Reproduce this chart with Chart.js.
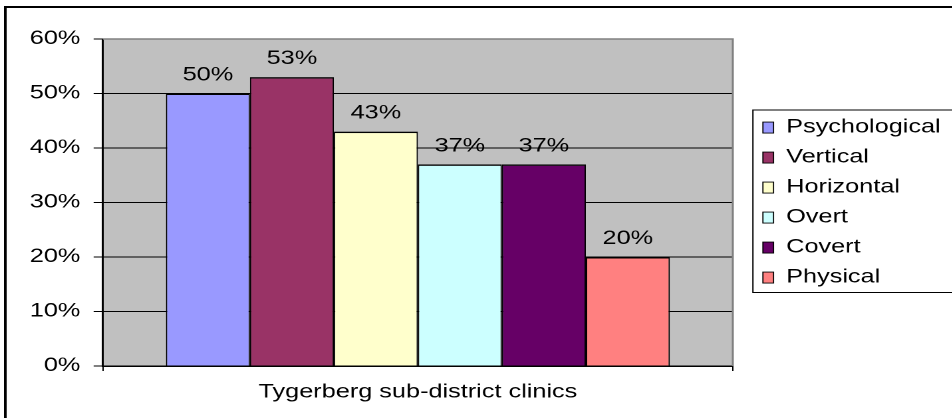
<!DOCTYPE html>
<html>
<head>
<meta charset="utf-8">
<script src="https://cdn.jsdelivr.net/npm/chart.js@4/dist/chart.umd.min.js"></script>
<style>
  html, body { margin: 0; padding: 0; background: #fff; overflow: hidden; }
  /* the original picture is stretched sideways, so the whole chart is too */
  #wrap { position: absolute; left: 0; top: 0; width: 725px; height: 425px;
          transform: scaleX(1.33); transform-origin: 0 0; }
</style>
</head>
<body>
<div id="wrap"><canvas id="chart"></canvas></div>
<script>
// data
const categories = ['Tygerberg sub-district clinics'];
const seriesNames = ['Psychological', 'Vertical', 'Horizontal', 'Overt', 'Covert', 'Physical'];
const seriesValues = [50, 53, 43, 37, 37, 20];
const seriesColors = ['#9999FF', '#993366', '#FFFFCC', '#CCFFFF', '#660066', '#FF8080'];
const yTicks = [0, 10, 20, 30, 40, 50, 60];

const FONT = { family: "'Liberation Sans', Arial, sans-serif", size: 19 };

// grey plot area
const plotBg = {
    id: 'plotBg',
    beforeDraw(chart) {
        const { ctx, chartArea: a } = chart;
        ctx.save();
        ctx.fillStyle = '#C0C0C0';
        ctx.fillRect(a.left, a.top, a.right - a.left, a.bottom - a.top);
        ctx.restore();
    }
};

// move legend items away from the plot, like the excel one
const legendShift = {
    id: 'legendShift',
    afterLayout(chart) {
        const lg = chart.legend;
        lg.left = chart.chartArea.right + 11.6;
        lg.right = chart.width;
    }
};

// value labels above bars
const valueLabels = {
    id: 'valueLabels',
    afterDatasetsDraw(chart) {
        const ctx = chart.ctx;
        ctx.save();
        ctx.font = FONT.size + 'px ' + FONT.family;
        ctx.fillStyle = '#000';
        ctx.textAlign = 'center';
        ctx.textBaseline = 'alphabetic';
        seriesValues.forEach((v, i) => {
            const bar = chart.getDatasetMeta(i).data[0];
            ctx.fillText(v + '%', bar.x, bar.y - 13);
        });
        ctx.restore();
    }
};

// borders: plot top/right, legend box, outer frame
const frames = {
    id: 'frames',
    afterDraw(chart) {
        const { ctx, chartArea: a } = chart;
        ctx.save();
        ctx.strokeStyle = '#808080';
        ctx.lineWidth = 1.5;
        ctx.beginPath();
        ctx.moveTo(a.left, a.top);
        ctx.lineTo(a.right, a.top);
        ctx.lineTo(a.right, a.bottom);
        ctx.stroke();

        const hb = chart.legend.legendHitBoxes;
        if (hb && hb.length) {
            const last = hb[hb.length - 1];
            const x0 = hb[0].left - 7.5;
            const y0 = hb[0].top - 8;
            const y1 = last.top + last.height + 5.5;
            ctx.strokeStyle = '#000';
            ctx.lineWidth = 1;
            ctx.strokeRect(x0, y0, chart.width + 10 - x0, y1 - y0);
        }

        ctx.strokeStyle = '#000';
        ctx.lineWidth = 2;
        ctx.strokeRect(4, 7, chart.width + 10, chart.height + 10);
        ctx.restore();
    }
};

new Chart(document.getElementById('chart'), {
    type: 'bar',
    data: {
        labels: categories,
        datasets: seriesNames.map((name, i) => ({
            label: name,
            data: [seriesValues[i]],
            backgroundColor: seriesColors[i],
            borderColor: '#000',
            borderWidth: { top: 1.5, left: 1, right: 1, bottom: 0 },
            borderSkipped: false,
            categoryPercentage: 0.8,
            barPercentage: 1.0
        }))
    },
    options: {
        responsive: true,
        maintainAspectRatio: false,
        devicePixelRatio: 2,
        animation: false,
        layout: { padding: { top: 39, left: 0, right: 24, bottom: 0 } },
        plugins: {
            legend: {
                position: 'right',
                fullSize: false,
                maxWidth: 150,
                labels: {
                    font: FONT,
                    color: '#000',
                    boxWidth: 8,
                    boxHeight: 11,
                    padding: 11
                }
            },
            tooltip: { enabled: false }
        },
        scales: {
            x: {
                grid: { display: true, drawOnChartArea: false, color: '#000', tickLength: 5, offset: true },
                border: { color: '#000', width: 1.5 },
                ticks: { font: FONT, color: '#000', padding: 10 },
                afterFit(s) { s.height = 59; }
            },
            y: {
                min: yTicks[0],
                max: yTicks[yTicks.length - 1],
                ticks: {
                    stepSize: yTicks[1] - yTicks[0],
                    font: FONT,
                    color: '#000',
                    padding: 10,
                    callback: v => v + '%'
                },
                grid: {
                    color: c => (c.tick && c.tick.value === yTicks[yTicks.length - 1]) ? 'rgba(0,0,0,0)' : '#000',
                    lineWidth: 1,
                    tickColor: '#000',
                    tickLength: 7
                },
                border: { color: '#000', width: 1.5 },
                afterFit(s) { s.width = 77.4; }
            }
        }
    },
    plugins: [plotBg, legendShift, valueLabels, frames]
});
</script>
</body>
</html>
